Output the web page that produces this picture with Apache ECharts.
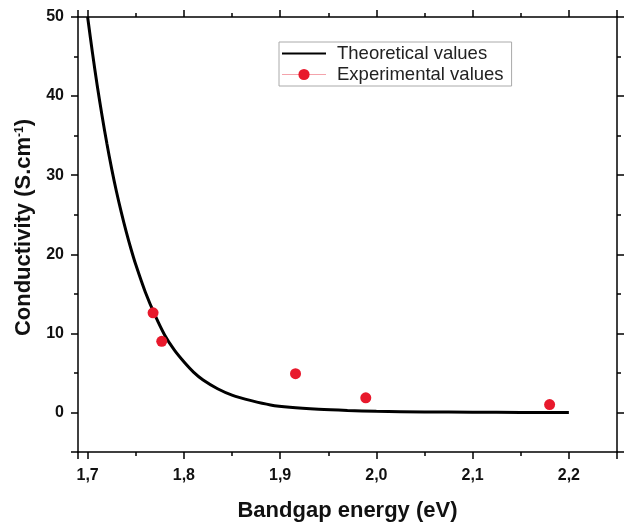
<!DOCTYPE html>
<html>
<head>
<meta charset="utf-8">
<script src="https://cdn.jsdelivr.net/npm/echarts@6/dist/echarts.min.js"></script>
<style>
  html, body { margin: 0; padding: 0; background: #fff; }
  #chart { width: 627px; height: 527px; }
</style>
</head>
<body>
<div id="chart"></div>
<script>
// theoretical curve
const theoX = [1.700, 1.705, 1.710, 1.715, 1.720, 1.725, 1.730, 1.735, 1.740, 1.745, 1.750, 1.760, 1.770, 1.780, 1.790, 1.800, 1.810, 1.820, 1.835, 1.850, 1.870, 1.890, 1.910, 1.940, 1.970, 2.000, 2.050, 2.100, 2.150, 2.200];
const theoY = [50, 45.5, 41.3, 37.5, 34, 30.8, 27.9, 25.3, 22.9, 20.7, 18.7, 15.2, 12.3, 9.8, 7.9, 6.4, 5.1, 4.1, 3.0, 2.2, 1.5, 0.95, 0.65, 0.4, 0.25, 0.15, 0.07, 0.03, 0.01, 0];

// experimental points
const expX = [1.768, 1.777, 1.916, 1.989, 2.180];
const expY = [12.6, 9.0, 4.9, 1.85, 1.0];

const FONT = "Arial, 'Liberation Sans', sans-serif";

const chart = echarts.init(document.getElementById("chart"));

const xLabel = (v) => {
  const r = Math.round(v * 10);
  return Math.abs(v * 10 - r) < 1e-6 ? (r / 10).toFixed(1).replace(".", ",") : "";
};
const yLabel = (v) => (Math.abs(v % 10) < 1e-6 ? String(v) : "");

const tickStyle = { show: true, length: 7, lineStyle: { color: "#000", width: 1.5 } };
const minorStyle = { show: true, splitNumber: 2, length: 4, lineStyle: { color: "#000", width: 1.5 } };
const lineStyle = { show: true, onZero: false, lineStyle: { color: "#000", width: 1.5 } };

const option = {
  animation: false,
  backgroundColor: "#fff",
  grid: { left: 78, top: 17, right: 10, bottom: 75 },
  legend: {
    orient: "vertical",
    left: 279,
    top: 42,
    padding: [2, 8, 2, 2],
    itemGap: 2,
    itemWidth: 44,
    itemHeight: 14,
    borderColor: "#aaa",
    borderWidth: 1,
    textStyle: { fontFamily: FONT, fontSize: 18.5, color: "#222", padding: [0, 0, 0, 6] },
    data: [
      { name: "Theoretical values", itemStyle: { opacity: 0 } },
      { name: "Experimental values", lineStyle: { color: "#f4a3ab", width: 1, opacity: 1 } },
    ],
  },
  xAxis: [
    {
      type: "value",
      min: 1.69,
      max: 2.25,
      splitNumber: 5,
      name: "Bandgap energy (eV)",
      nameLocation: "middle",
      nameGap: 48,
      nameTextStyle: { fontFamily: FONT, fontSize: 22, fontWeight: "bold", color: "#111" },
      axisLine: lineStyle,
      axisTick: tickStyle,
      minorTick: minorStyle,
      splitLine: { show: false },
      axisLabel: { formatter: xLabel, margin: 16, fontFamily: FONT, fontSize: 16, fontWeight: "bold", color: "#111", showMinLabel: false, showMaxLabel: false },
    },
    {
      type: "value",
      position: "top",
      min: 1.69,
      max: 2.25,
      splitNumber: 5,
      axisLine: lineStyle,
      axisTick: tickStyle,
      minorTick: minorStyle,
      splitLine: { show: false },
      axisLabel: { show: false },
    },
  ],
  yAxis: [
    {
      type: "value",
      min: -5,
      max: 50,
      splitNumber: 5,
      name: "Conductivity (S.cm{sup|-1})",
      nameLocation: "middle",
      nameGap: 37,
      nameTextStyle: {
        fontFamily: FONT, fontSize: 22, fontWeight: "bold", color: "#111",
        padding: [0, 0, 0, 14],
        rich: { sup: { fontFamily: FONT, fontSize: 12, fontWeight: "bold", color: "#111", verticalAlign: "top", padding: [0, 0, 10, 0] } },
      },
      axisLine: lineStyle,
      axisTick: tickStyle,
      minorTick: minorStyle,
      splitLine: { show: false },
      axisLabel: { formatter: yLabel, margin: 14, fontFamily: FONT, fontSize: 16, fontWeight: "bold", color: "#111", showMinLabel: false },
    },
    {
      type: "value",
      position: "right",
      min: -5,
      max: 50,
      splitNumber: 5,
      axisLine: lineStyle,
      axisTick: tickStyle,
      minorTick: minorStyle,
      splitLine: { show: false },
      axisLabel: { show: false },
    },
  ],
  series: [
    {
      name: "Theoretical values",
      type: "line",
      smooth: 0.3,
      showSymbol: false,
      symbol: "none",
      color: "#000",
      lineStyle: { color: "#000", width: 3 },
      data: theoX.map((x, i) => [x, theoY[i]]),
      z: 2,
    },
    {
      name: "Experimental values",
      type: "line",
      symbol: "circle",
      symbolSize: 11,
      color: "#e8192c",
      itemStyle: { color: "#e8192c" },
      lineStyle: { width: 0, opacity: 0 },
      data: expX.map((x, i) => [x, expY[i]]),
      z: 3,
    },
  ],
};

option && chart.setOption(option);
</script>
</body>
</html>
